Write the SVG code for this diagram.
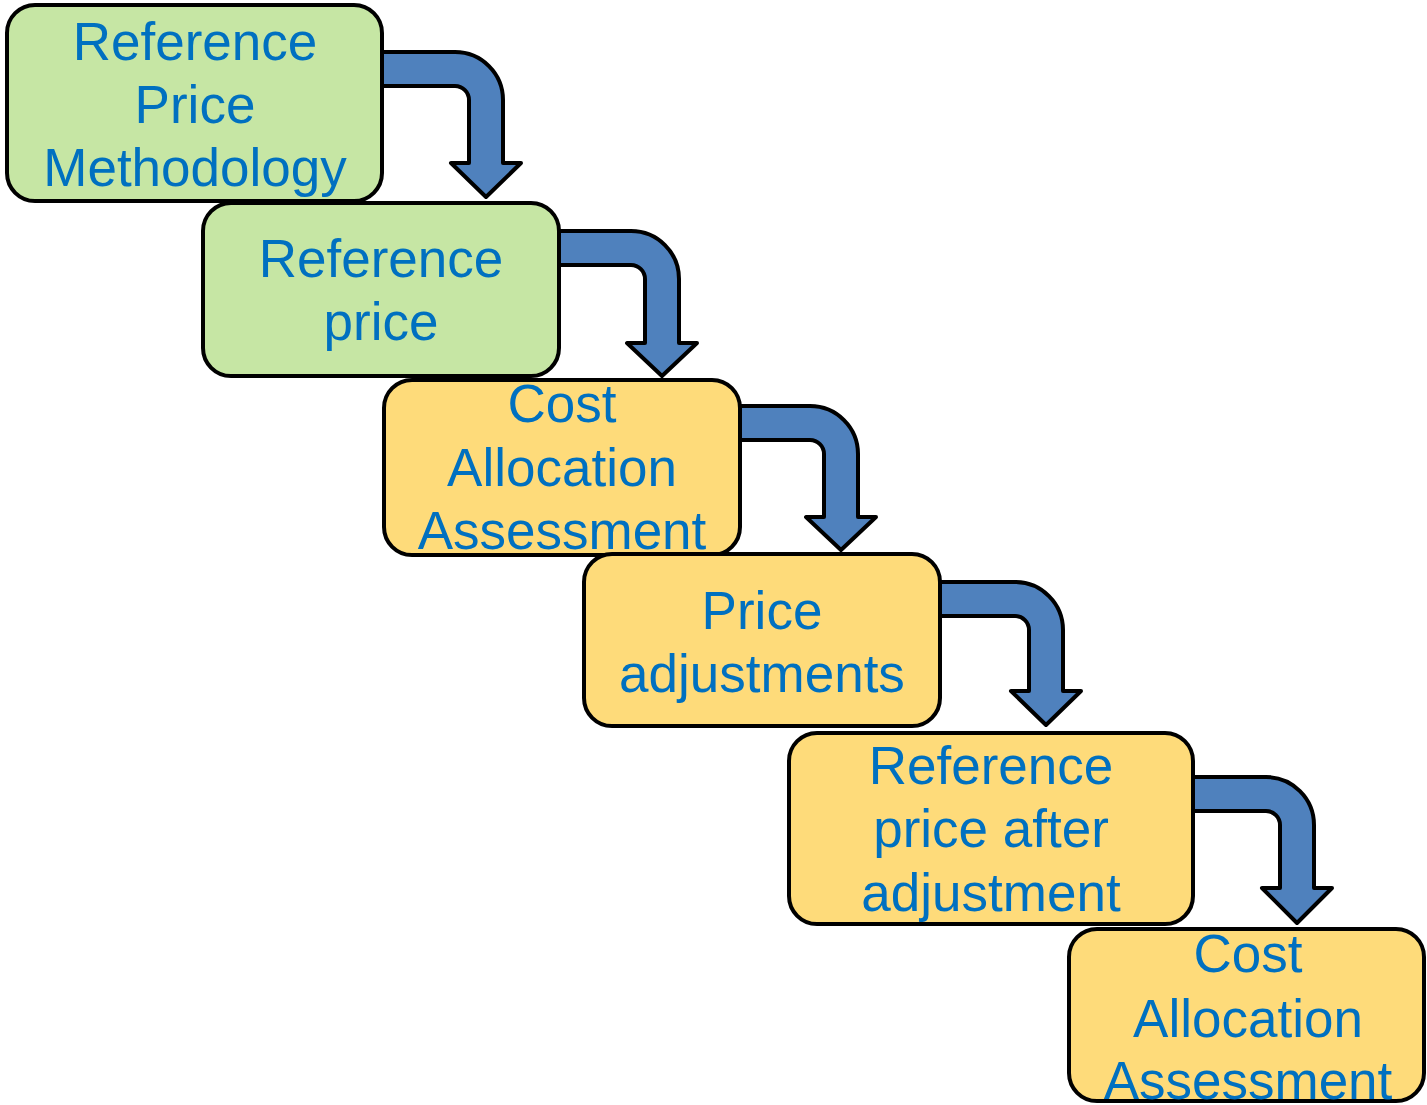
<svg xmlns="http://www.w3.org/2000/svg" width="1427" height="1105" viewBox="0 0 1427 1105">
<style>
.box{stroke:#000;stroke-width:4}
.g{fill:#C6E6A4}
.y{fill:#FEDB7A}
.arrow{fill:#4F81BD;stroke:#000;stroke-width:4;stroke-linejoin:round}
text{font-family:"Liberation Sans",Arial,sans-serif;font-size:53px;fill:#0070C0;text-anchor:middle}
</style>
<rect width="1427" height="1105" fill="#fff"/>
<g id="connectors">
<path class="arrow" d="M376,52 H455 A48,48 0 0 1 503,100 V163 H521 L486,197 L451,163 H469 V100 A14,14 0 0 0 455,86 H376 Z"/>
<path class="arrow" d="M552,231 H631 A48,48 0 0 1 679,279 V343 H697 L662,376 L627,343 H645 V279 A14,14 0 0 0 631,265 H552 Z"/>
<path class="arrow" d="M733,406 H810 A48,48 0 0 1 858,454 V517 H876 L841,550 L806,517 H824 V454 A14,14 0 0 0 810,440 H733 Z"/>
<path class="arrow" d="M933,582 H1015 A48,48 0 0 1 1063,630 V691 H1081 L1046,725 L1011,691 H1029 V630 A14,14 0 0 0 1015,616 H933 Z"/>
<path class="arrow" d="M1186,777 H1266 A48,48 0 0 1 1314,825 V888 H1332 L1297,923 L1262,888 H1280 V825 A14,14 0 0 0 1266,811 H1186 Z"/>
</g>
<g id="node1">
<rect class="box g" x="7" y="5" width="375" height="196" rx="28"/>
<text x="195" y="60">Reference</text>
<text x="195" y="123">Price</text>
<text x="195" y="186">Methodology</text>
</g>
<g id="node2">
<rect class="box g" x="203" y="203" width="356" height="173" rx="28"/>
<text x="381" y="277">Reference</text>
<text x="381" y="340">price</text>
</g>
<g id="node3">
<rect class="box y" x="384" y="380" width="356" height="175" rx="28"/>
<text x="562" y="422">Cost</text>
<text x="562" y="486">Allocation</text>
<text x="562" y="549">Assessment</text>
</g>
<g id="node4">
<rect class="box y" x="584" y="554" width="356" height="172" rx="28"/>
<text x="762" y="629">Price</text>
<text x="762" y="692">adjustments</text>
</g>
<g id="node5">
<rect class="box y" x="789" y="733" width="404" height="191" rx="28"/>
<text x="991" y="784">Reference</text>
<text x="991" y="847">price after</text>
<text x="991" y="911">adjustment</text>
</g>
<g id="node6">
<rect class="box y" x="1069" y="929" width="355" height="172" rx="28"/>
<text x="1248" y="972">Cost</text>
<text x="1248" y="1037">Allocation</text>
<text x="1248" y="1099">Assessment</text>
</g>
</svg>
